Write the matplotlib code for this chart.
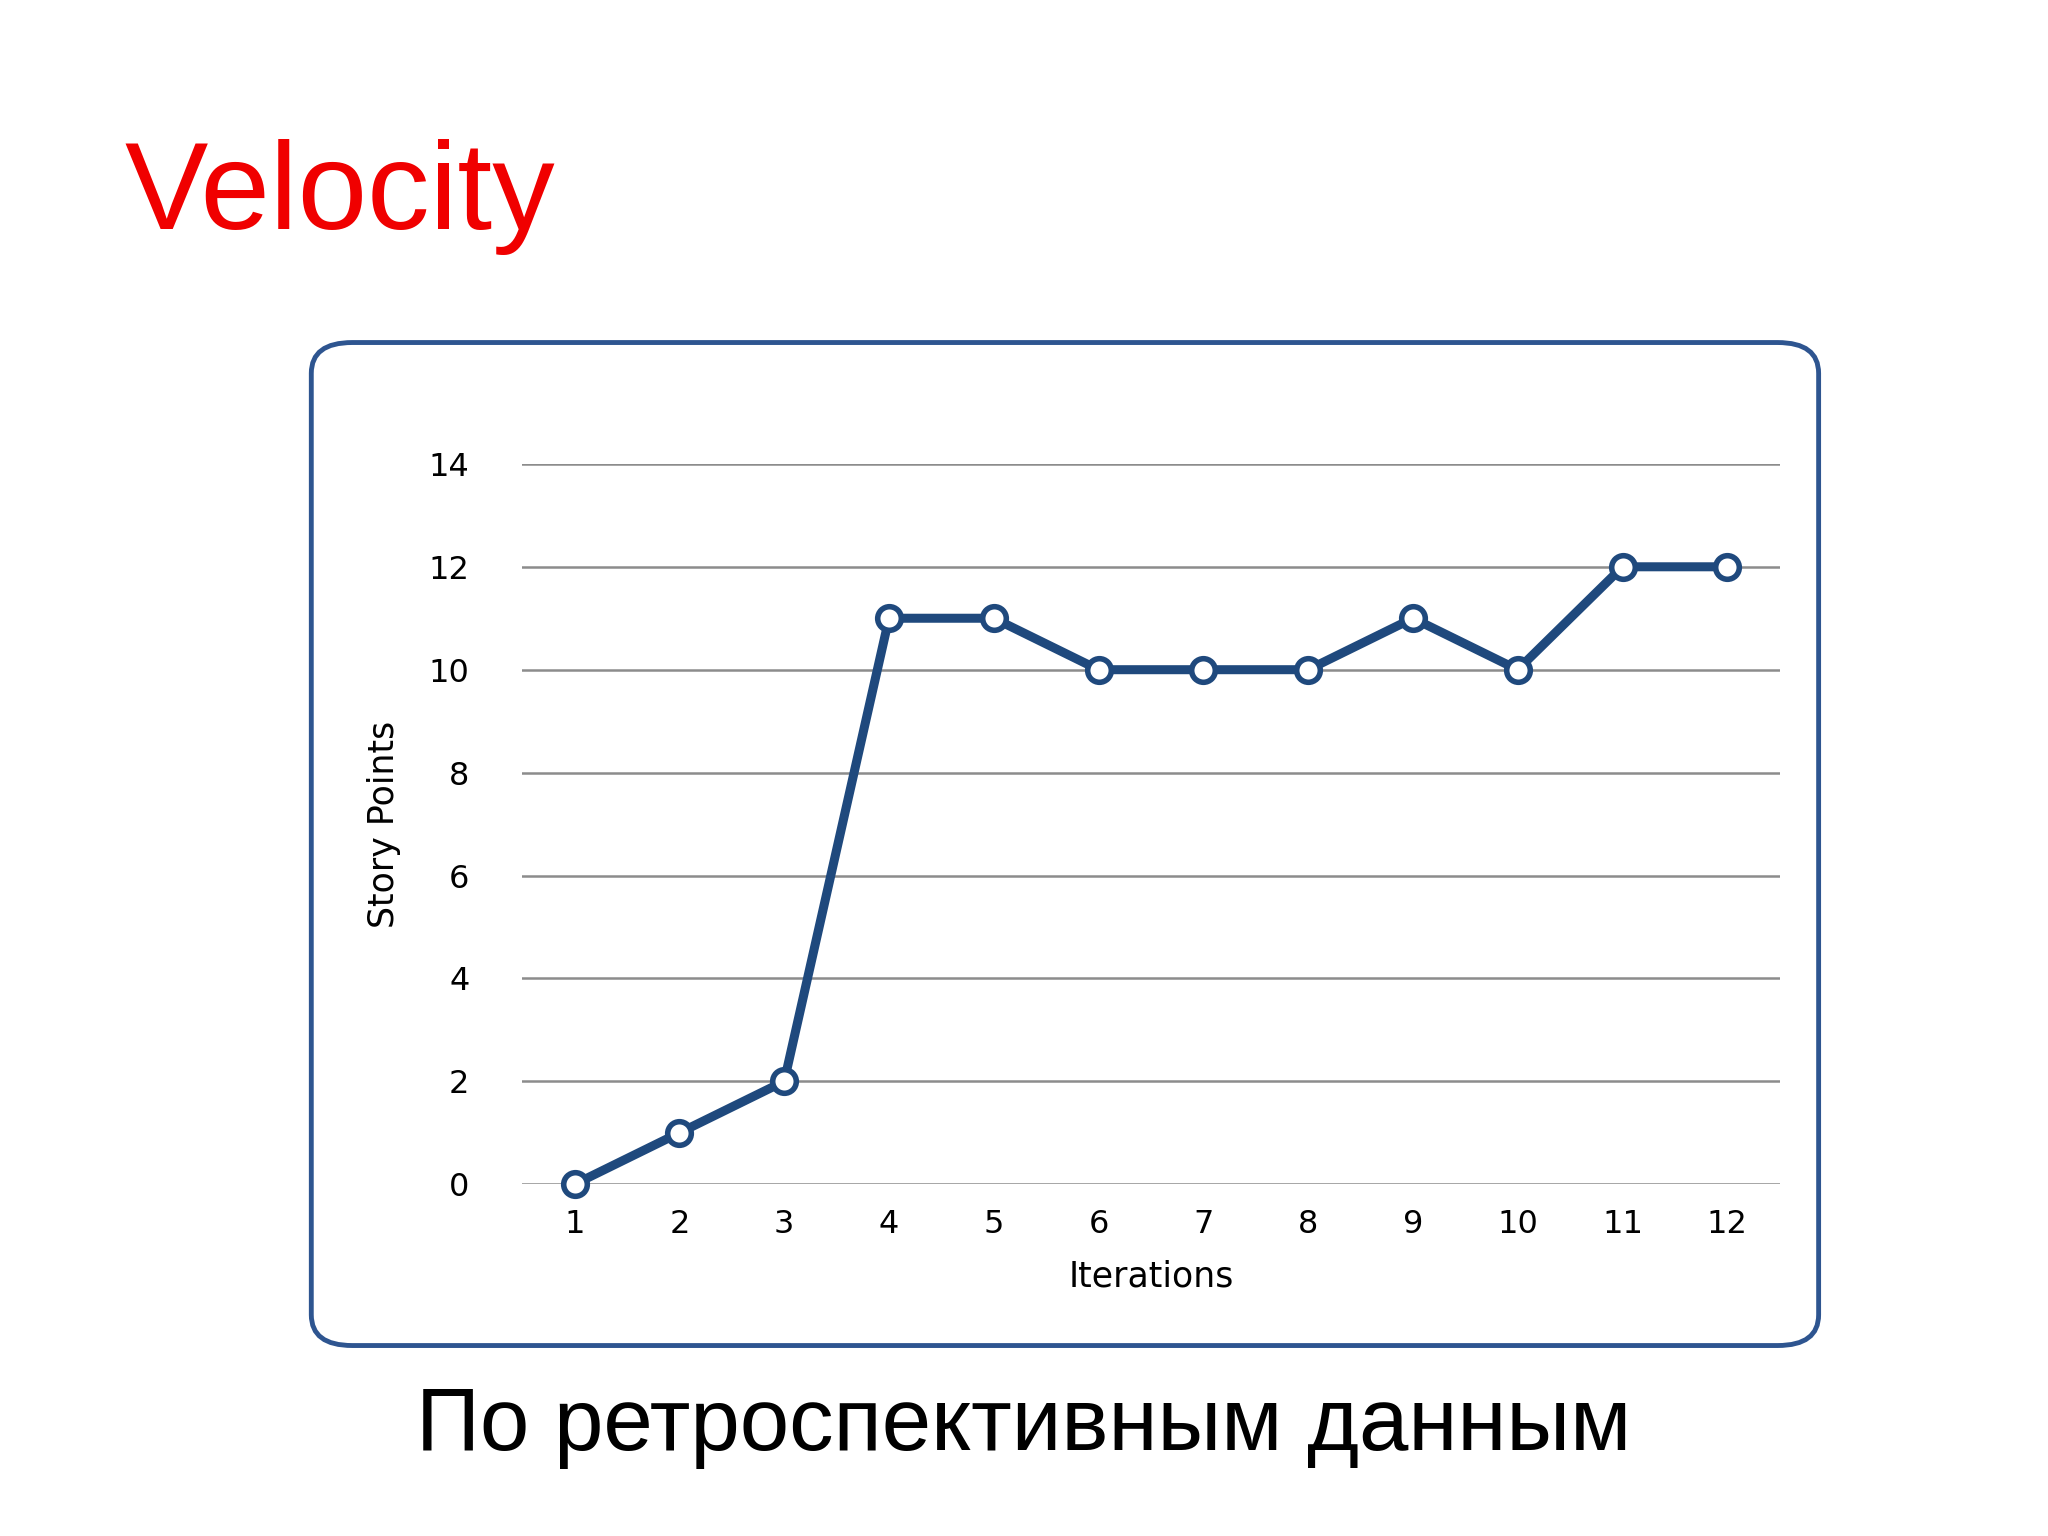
import matplotlib
matplotlib.use('Agg')
from matplotlib import pyplot as plt
from matplotlib.patches import FancyBboxPatch

iterations = list(range(1, 13))
story_points = [0, 1, 2, 11, 11, 10, 10, 10, 11, 10, 12, 12]
y_ticks = [0, 2, 4, 6, 8, 10, 12, 14]

plt.rcParams['font.family'] = ['Liberation Sans', 'DejaVu Sans']

fig = plt.figure(figsize=(20.48, 15.36), dpi=100)

# rounded frame around the chart
box = FancyBboxPatch((0.152, 0.124), 0.736, 0.653, boxstyle='round,pad=0,rounding_size=0.02',
                     transform=fig.transFigure, facecolor='none', edgecolor='#2E5590',
                     linewidth=3.5, zorder=-1)
fig.patches.append(box)

fig.text(0.061, 0.872, 'Velocity', color='#F00000', fontsize=90, va='center', ha='left')
fig.text(0.5, 0.071, 'По ретроспективным данным', color='black', fontsize=64, va='center', ha='center')

ax = fig.add_axes([0.255, 0.229, 0.614, 0.469])
ax.set_facecolor('none')
ax.plot(iterations, story_points, color='#1F497D', linewidth=6.5, marker='o', markersize=17,
        markerfacecolor='white', markeredgecolor='#1F497D', markeredgewidth=4, zorder=3,
        clip_on=False)
ax.set_xlim(0.5, 12.5)
ax.set_ylim(0, 14)
ax.set_yticks(y_ticks)
ax.set_xticks(iterations)
ax.yaxis.grid(True, color='#8C8C8C', linewidth=1.8)
ax.set_axisbelow(True)
for s in ax.spines.values():
  s.set_visible(False)
ax.tick_params(length=0, labelsize=23, pad=18)
ax.tick_params(axis='y', pad=38)
ax.set_xlabel('Iterations', fontsize=25, labelpad=14, family=['DejaVu Sans'])
ax.set_ylabel('Story Points', fontsize=25, labelpad=20, family=['DejaVu Sans'])
for lbl in ax.get_xticklabels() + ax.get_yticklabels():
  lbl.set_family('DejaVu Sans')

fig.savefig('out.png', dpi=100)
